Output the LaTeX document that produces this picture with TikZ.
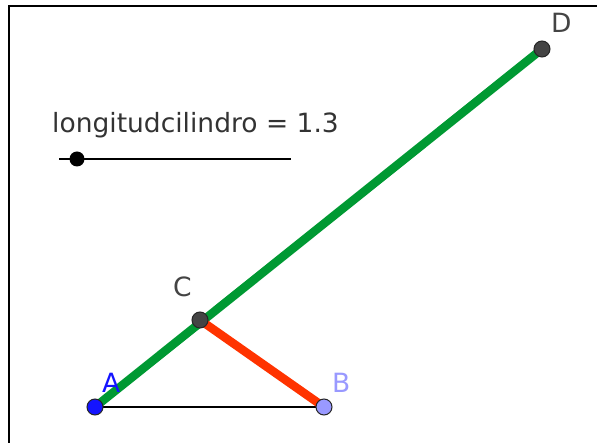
\documentclass[tikz,border=0pt]{standalone}
\usepackage{fontspec}
\setmainfont{DejaVu Sans}
\usetikzlibrary{backgrounds}
\definecolor{verde}{RGB}{0,153,51}
\definecolor{rojo}{RGB}{255,51,0}
\definecolor{azul}{RGB}{20,20,255}
\definecolor{azulclaro}{RGB}{153,153,255}
\definecolor{gris}{RGB}{68,68,68}

\begin{document}
\begin{tikzpicture}[x=1pt, y=-1pt,
    punto/.style={circle, draw=black!85, line width=1pt, inner sep=0pt, minimum size=16pt},
    etiq/.style={font=\fontsize{26.5}{26.5}\selectfont, inner sep=0pt, anchor=base west},
    seg/.style={line width=8.5pt},
    fina/.style={line width=1.8pt}
]
    \useasboundingbox (0,0) rectangle (597,443);
    \clip (0,0) rectangle (597,443);
    \draw[line width=2.4pt] (9,6) rectangle (660,500);
    % deslizador
    \node[etiq, text=black!80] (txt) at (52,133) {longitudcilindro = 1.3};
    \coordinate (s0) at (59,159);
    \coordinate (s1) at (291,159);
    \draw[fina] (s0) -- (s1);
    \node[circle, fill=black, inner sep=0pt, minimum size=15pt] (cur) at (77,159) {};
    % puntos
    \node[punto, fill=azul] (A) at (95,407) {};
    \node[punto, fill=azulclaro] (B) at (324,407) {};
    \node[punto, fill=gris] (C) at (200,320) {};
    \node[punto, fill=gris] (D) at (542,49) {};
    \begin{pgfonlayer}{background}
        \draw[fina] (A.center) -- (B.center);
        \draw[seg, verde] (A.center) -- (D.center);
        \draw[seg, rojo] (C.center) -- (B.center);
    \end{pgfonlayer}
    % etiquetas
    \node[etiq, text=azul] (eA) at (102,392) {A};
    \node[etiq, text=azulclaro] (eB) at (332,392) {B};
    \node[etiq, text=gris] (eC) at (173,297) {C};
    \node[etiq, text=gris] (eD) at (551,33) {D};
\end{tikzpicture}
\end{document}
